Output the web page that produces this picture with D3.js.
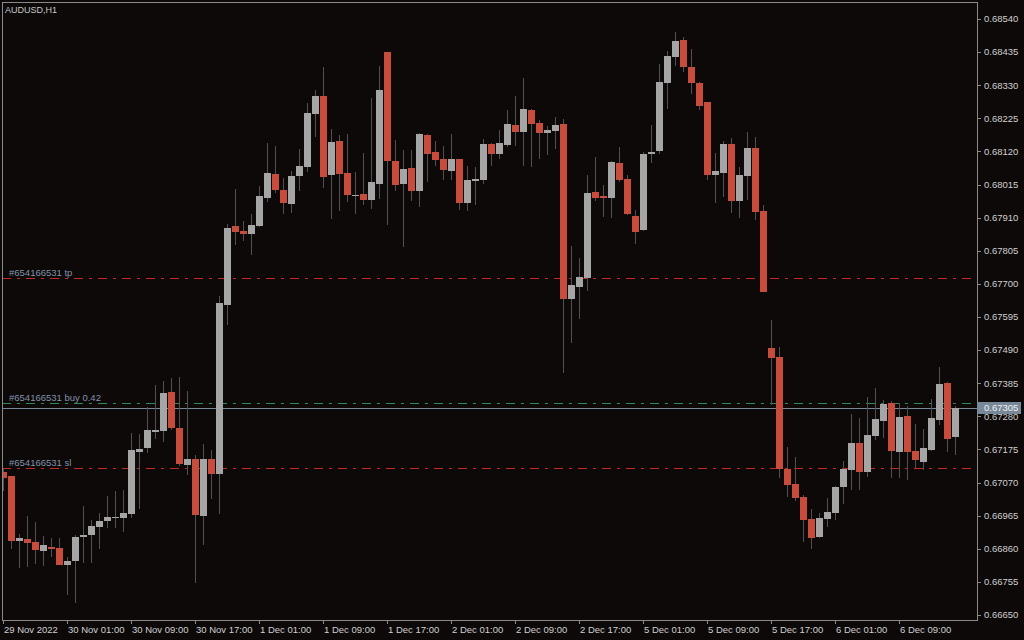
<!DOCTYPE html>
<html>
<head>
<meta charset="utf-8">
<script src="https://d3js.org/d3.v7.min.js"></script>
<style>
  html, body { margin: 0; padding: 0; background: #0c0908; }
  svg { display: block; }
  text { font-family: "Liberation Sans", Arial, sans-serif; }
</style>
</head>
<body>
<script>
// AUDUSD H1 candles
const open = [
  0.67104,0.67091,0.66885,0.66891,0.66882,0.66853,0.66866,0.66863,0.66809,0.66821,
  0.66897,0.66904,0.66929,0.66948,0.66958,0.66958,0.66970,0.67167,0.67180,0.67230,
  0.67234,0.67357,0.67243,0.67126,0.67145,0.66964,0.67145,0.67097,0.67633,0.67884,
  0.67868,0.67858,0.67884,0.67972,0.68049,0.67998,0.67953,0.68042,0.68071,0.68239,
  0.68296,0.68045,0.68153,0.68052,0.67979,0.67985,0.67966,0.68017,0.68435,0.68090,
  0.68017,0.68068,0.67995,0.68172,0.68118,0.68096,0.68058,0.68096,0.67957,0.68026,
  0.68029,0.68144,0.68112,0.68140,0.68204,0.68182,0.68251,0.68210,0.68179,0.68185,
  0.68207,0.67652,0.67690,0.67719,0.67991,0.67979,0.67972,0.68083,0.68033,0.67915,
  0.67871,0.68112,0.68121,0.68337,0.68420,0.68473,0.68388,0.68337,0.68277,0.68045,
  0.68052,0.68144,0.67963,0.68042,0.68131,0.67931,0.67497,0.67468,0.67113,0.67065,
  0.67024,0.66955,0.66897,0.66955,0.66974,0.67056,0.67110,0.67196,0.67104,0.67218,
  0.67265,0.67322,0.67167,0.67281,0.67170,0.67135,0.67173,0.67268,0.67386,0.67215
];
const high = [
  0.67113,0.67091,0.66907,0.66964,0.66945,0.66901,0.66894,0.66894,0.66834,0.66904,
  0.66996,0.66951,0.66974,0.67027,0.67043,0.67046,0.67227,0.67224,0.67310,0.67379,
  0.67392,0.67402,0.67405,0.67360,0.67157,0.67192,0.67173,0.67662,0.67890,0.68001,
  0.67899,0.67922,0.68010,0.68147,0.68137,0.68036,0.68058,0.68128,0.68274,0.68315,
  0.68388,0.68191,0.68172,0.68175,0.68055,0.68115,0.68289,0.68391,0.68435,0.68156,
  0.68125,0.68125,0.68179,0.68175,0.68153,0.68137,0.68175,0.68096,0.68074,0.68071,
  0.68159,0.68147,0.68188,0.68251,0.68296,0.68353,0.68255,0.68220,0.68201,0.68229,
  0.68223,0.67820,0.67782,0.68045,0.68102,0.68014,0.68090,0.68134,0.68045,0.67934,
  0.68118,0.68204,0.68397,0.68439,0.68499,0.68483,0.68445,0.68340,0.68277,0.68115,
  0.68153,0.68163,0.68071,0.68182,0.68166,0.67950,0.67586,0.67500,0.67183,0.67151,
  0.67031,0.66986,0.66974,0.67021,0.67059,0.67138,0.67287,0.67275,0.67341,0.67370,
  0.67332,0.67329,0.67322,0.67313,0.67256,0.67240,0.67335,0.67436,0.67389,0.67313
];
const low = [
  0.67043,0.66859,0.66799,0.66802,0.66812,0.66805,0.66834,0.66809,0.66714,0.66688,
  0.66815,0.66815,0.66859,0.66926,0.66926,0.66913,0.66958,0.66986,0.67164,0.67208,
  0.67199,0.67237,0.67123,0.67094,0.66752,0.66872,0.67018,0.66970,0.67570,0.67823,
  0.67836,0.67792,0.67880,0.67960,0.67988,0.67922,0.67925,0.67995,0.68055,0.68166,
  0.68004,0.67906,0.67931,0.67960,0.67922,0.67950,0.67938,0.67969,0.67887,0.67995,
  0.67817,0.67963,0.67944,0.68023,0.68074,0.68029,0.68029,0.67934,0.67931,0.67950,
  0.68017,0.68074,0.68096,0.68134,0.68137,0.68074,0.68071,0.68096,0.68109,0.68128,
  0.67417,0.67513,0.67589,0.67677,0.67963,0.67912,0.67909,0.68023,0.67918,0.67827,
  0.67868,0.68083,0.68112,0.68255,0.68391,0.68372,0.68302,0.68251,0.68029,0.67957,
  0.67976,0.67925,0.67909,0.67966,0.67903,0.67674,0.67316,0.67085,0.67024,0.67012,
  0.66882,0.66859,0.66894,0.66929,0.66951,0.67002,0.67046,0.67046,0.67088,0.67205,
  0.67211,0.67085,0.67085,0.67078,0.67116,0.67110,0.67170,0.67253,0.67167,0.67157
];
const close = [
  0.67085,0.66885,0.66894,0.66878,0.66856,0.66872,0.66859,0.66809,0.66821,0.66897,
  0.66904,0.66932,0.66948,0.66961,0.66961,0.66974,0.67173,0.67176,0.67237,0.67237,
  0.67354,0.67243,0.67129,0.67145,0.66967,0.67145,0.67097,0.67639,0.67877,0.67865,
  0.67858,0.67887,0.67979,0.68052,0.67998,0.67957,0.68042,0.68074,0.68242,0.68296,
  0.68039,0.68150,0.68049,0.67982,0.67982,0.67966,0.68023,0.68315,0.68090,0.68014,
  0.68064,0.67995,0.68175,0.68112,0.68093,0.68061,0.68096,0.67957,0.68029,0.68033,
  0.68144,0.68112,0.68147,0.68207,0.68182,0.68255,0.68207,0.68179,0.68188,0.68204,
  0.67652,0.67697,0.67722,0.67988,0.67972,0.67972,0.68087,0.68029,0.67922,0.67865,
  0.68112,0.68118,0.68340,0.68423,0.68470,0.68388,0.68337,0.68264,0.68045,0.68058,
  0.68144,0.67963,0.68045,0.68131,0.67928,0.67674,0.67465,0.67113,0.67062,0.67021,
  0.66951,0.66894,0.66958,0.66977,0.67056,0.67113,0.67196,0.67104,0.67221,0.67272,
  0.67319,0.67170,0.67278,0.67167,0.67142,0.67180,0.67275,0.67383,0.67208,0.67305
];

const priceTicks = [0.68540,0.68435,0.68330,0.68225,0.68120,0.68015,0.67910,0.67805,0.67700,0.67595,
  0.67490,0.67385,0.67280,0.67175,0.67070,0.66965,0.66860,0.66755,0.66650];
const timeLabelBars = [0,8,16,24,32,40,48,56,64,72,80,88,96,104,112];
const timeLabels = ["29 Nov 2022","30 Nov 01:00","30 Nov 09:00","30 Nov 17:00","1 Dec 01:00",
  "1 Dec 09:00","1 Dec 17:00","2 Dec 01:00","2 Dec 09:00","2 Dec 17:00","5 Dec 01:00",
  "5 Dec 09:00","5 Dec 17:00","6 Dec 01:00","6 Dec 09:00"];

const orderLevels = [0.67719, 0.67322, 0.67116];
const orderNames = ["#654166531 tp", "#654166531 buy 0.42", "#654166531 sl"];
const orderColors = ["#c8281e", "#2e8b57", "#c8281e"];
const bidPrice = 0.67305;

const width = 1024, height = 640;
const plot = {left: 2, top: 2, right: 977, bottom: 620};

const bars = open.map((o, i) => ({i, o, h: high[i], l: low[i], c: close[i]}));

const x = d3.scaleLinear().domain([0, 119]).range([3.5, 955.5]);
const y = d3.scaleLinear().domain([0.66650, 0.68540]).range([615, 19]);

const svg = d3.select("body").append("svg")
    .attr("width", width)
    .attr("height", height);

svg.append("rect")
    .attr("width", width)
    .attr("height", height)
    .attr("fill", "#0c0908");

svg.append("clipPath")
    .attr("id", "plotclip")
  .append("rect")
    .attr("x", plot.left + 1)
    .attr("y", plot.top + 1)
    .attr("width", plot.right - plot.left - 1)
    .attr("height", plot.bottom - plot.top - 1);

const g = svg.append("g").attr("clip-path", "url(#plotclip)");

// order lines
g.append("g")
  .selectAll("line")
  .data(orderLevels)
  .join("line")
    .attr("x1", plot.left)
    .attr("x2", plot.right)
    .attr("y1", d => Math.round(y(d)) + 0.5)
    .attr("y2", d => Math.round(y(d)) + 0.5)
    .attr("stroke", (d, i) => orderColors[i])
    .attr("stroke-dasharray", "9,6,3,6");

// bid line
g.append("line")
    .attr("x1", plot.left)
    .attr("x2", plot.right)
    .attr("y1", Math.round(y(bidPrice)) + 0.5)
    .attr("y2", Math.round(y(bidPrice)) + 0.5)
    .attr("stroke", "#778899");

g.append("g")
  .selectAll("text")
  .data(orderLevels)
  .join("text")
    .attr("x", 9)
    .attr("y", d => Math.round(y(d)) - 2)
    .attr("fill", "#8392ab")
    .attr("font-size", "9.5px")
    .text((d, i) => orderNames[i]);

// wicks
g.append("g")
  .selectAll("line")
  .data(bars)
  .join("line")
    .attr("x1", d => x(d.i))
    .attr("x2", d => x(d.i))
    .attr("y1", d => Math.round(y(d.h)))
    .attr("y2", d => Math.round(y(d.l)))
    .attr("stroke", "#505050");

// bodies
g.append("g")
  .selectAll("rect")
  .data(bars)
  .join("rect")
    .attr("x", d => x(d.i) - 3.5)
    .attr("width", 7)
    .attr("y", d => Math.round(y(Math.max(d.o, d.c))))
    .attr("height", d => Math.max(1, Math.round(y(Math.min(d.o, d.c))) - Math.round(y(Math.max(d.o, d.c)))))
    .attr("fill", d => d.c >= d.o ? "#a5a5a5" : "#c84c3c");

// frame
svg.append("rect")
    .attr("x", plot.left + 0.5)
    .attr("y", plot.top + 0.5)
    .attr("width", plot.right - plot.left)
    .attr("height", plot.bottom - plot.top)
    .attr("fill", "none")
    .attr("stroke", "#8a8a8a");

svg.append("text")
    .attr("x", 5)
    .attr("y", 13)
    .attr("fill", "#c8c8c8")
    .attr("font-size", "9px")
    .text("AUDUSD,H1");

// price scale
const yAxis = svg.append("g");
yAxis.selectAll("line")
  .data(priceTicks)
  .join("line")
    .attr("x1", plot.right)
    .attr("x2", plot.right + 4)
    .attr("y1", d => Math.round(y(d)) + 0.5)
    .attr("y2", d => Math.round(y(d)) + 0.5)
    .attr("stroke", "#8a8a8a");
yAxis.selectAll("text")
  .data(priceTicks)
  .join("text")
    .attr("x", 984)
    .attr("y", d => y(d))
    .attr("dy", "0.35em")
    .attr("fill", "#d0d0d0")
    .attr("font-size", "9.5px")
    .text(d => d.toFixed(5));

// bid label
const by = Math.round(y(bidPrice));
svg.append("rect")
    .attr("x", plot.right)
    .attr("y", by - 6)
    .attr("width", 44)
    .attr("height", 12)
    .attr("fill", "#778899");
svg.append("text")
    .attr("x", 984)
    .attr("y", by)
    .attr("dy", "0.35em")
    .attr("fill", "#f0f0f0")
    .attr("font-size", "9.5px")
    .text(bidPrice.toFixed(5));

// time scale
const xAxis = svg.append("g");
xAxis.selectAll("line")
  .data(timeLabelBars)
  .join("line")
    .attr("x1", d => Math.floor(x(d)) + 0.5)
    .attr("x2", d => Math.floor(x(d)) + 0.5)
    .attr("y1", plot.bottom)
    .attr("y2", plot.bottom + 4)
    .attr("stroke", "#8a8a8a");
xAxis.selectAll("text")
  .data(timeLabelBars)
  .join("text")
    .attr("x", d => x(d) + 0.5)
    .attr("y", 633)
    .attr("fill", "#d0d0d0")
    .attr("font-size", "9.5px")
    .text((d, i) => timeLabels[i]);
</script>
</body>
</html>
